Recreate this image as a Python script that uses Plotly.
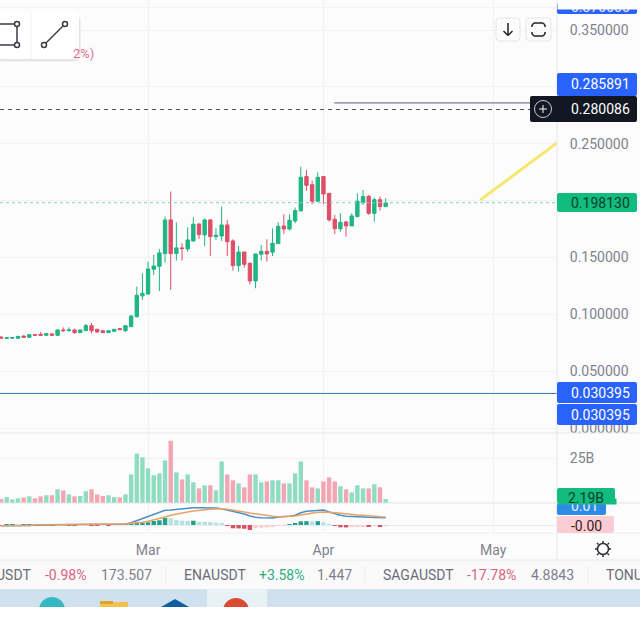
import pandas as pd
import plotly.graph_objects as go
from plotly.subplots import make_subplots

W = 640
H = 640

# daily candles
opens = [.0800, .0789, .0789, .0789, .0809, .0798, .0821, .0824, .0815, .0827, .0815, .0862, .0856, .0862, .0839, .0856, .0900, .0868,
         .0856, .0839, .0850, .0874, .0856, .0891, .0979, .1162, .1179, .1396, .1422, .1534, .1830, .1534, .1584, .1575, .1645, .1794,
         .1698, .1830, .1683, .1689, .1786, .1645, .1428, .1548, .1449, .1293, .1528, .1554, .1546, .1622, .1777, .1750, .1821, .1909,
         .2211, .2140, .1994, .2211, .2064, .1835, .1753, .1812, .1777, .1859, .1982, .2038, .1888, .2008, .1947]
highs = [.0806, .0800, .0800, .0809, .0812, .0824, .0827, .0844, .0833, .0833, .0868, .0885, .0885, .0874, .0865, .0915, .0924, .0871,
         .0859, .0859, .0871, .0877, .0906, .0991, .1244, .1361, .1463, .1522, .1575, .1859, .2079, .1809, .1625, .1765, .1853, .1800,
         .1844, .1836, .1756, .1947, .1830, .1660, .1601, .1548, .1455, .1531, .1610, .1660, .1756, .1809, .1879, .1879, .1938, .2298,
         .2269, .2175, .2249, .2211, .2064, .1874, .1888, .1821, .1888, .2064, .2093, .2049, .2026, .2035, .2020]
lows = [.0785, .0783, .0783, .0786, .0795, .0795, .0812, .0810, .0812, .0810, .0812, .0844, .0847, .0827, .0836, .0853, .0833, .0839,
        .0836, .0836, .0847, .0862, .0844, .0888, .0973, .1126, .1170, .1346, .1205, .1455, .1214, .1472, .1472, .1551, .1639, .1663,
        .1601, .1513, .1654, .1645, .1513, .1384, .1375, .1411, .1264, .1229, .1472, .1463, .1512, .1622, .1707, .1736, .1800, .1909,
        .2087, .1967, .1994, .1967, .1815, .1707, .1727, .1683, .1777, .1853, .1961, .1874, .1815, .1912, .1947]
closes = [.0789, .0795, .0795, .0806, .0798, .0821, .0815, .0815, .0830, .0815, .0862, .0856, .0862, .0839, .0862, .0900, .0856, .0844,
          .0839, .0856, .0868, .0865, .0900, .0985, .1167, .1185, .1399, .1425, .1540, .1830, .1534, .1584, .1578, .1654, .1792, .1701,
          .1830, .1683, .1695, .1786, .1639, .1428, .1548, .1440, .1293, .1531, .1554, .1531, .1625, .1774, .1750, .1827, .1912, .2205,
          .2134, .1994, .2205, .2058, .1830, .1753, .1809, .1777, .1865, .1994, .2035, .1888, .2008, .1947, .19813]

# volume, in billions
volumes = [2.2, 3.3, 2.0, 2.6, 3.1, 3.7, 2.6, 3.7, 4.3, 4.3, 7.6, 7.0, 4.8, 3.7, 3.9, 6.5, 7.6, 4.8, 3.9, 4.3, 3.3, 3.1, 4.8, 15.9, 27.4,
           25.4, 19.3, 15.4, 16.5, 23.7, 34.6, 17.0, 13.1, 15.9, 11.5, 8.1, 9.8, 9.8, 7.0, 23.1, 15.9, 12.6, 10.9, 8.7, 15.9, 15.9, 11.5,
           12.0, 12.6, 12.6, 10.9, 10.9, 16.5, 23.1, 12.6, 8.7, 8.1, 12.0, 14.3, 12.0, 9.3, 7.6, 5.9, 9.8, 8.1, 8.1, 10.4, 8.7, 2.19]

# MACD pane
macd_line = [-.0005, -.0005, -.0005, -.0005, -.0005, -.0005, .0, .0, .0, .0, .0002, .0002, .0002, .0002, .0002, .0002, .0007, .0007, .0007,
             .0007, .0007, .0007, .0007, .0016, .0030, .0049, .0063, .0077, .0091, .0103, .0105, .0110, .0114, .0119, .0121, .0121, .0121,
             .0121, .0119, .0114, .0105, .0096, .0086, .0077, .0063, .0054, .0051, .0049, .0049, .0056, .0058, .0061, .0068, .0086, .0096,
             .0100, .0105, .0105, .0091, .0077, .0068, .0061, .0061, .0058, .0056, .0054, .0054, .0054, .0051]
signal_line = [-.0005, -.0005, -.0005, -.0005, -.0005, -.0005, .0002, .0002, .0002, .0002, .0007, .0007, .0007, .0007, .0007, .0007, .0007,
               .0007, .0007, .0007, .0007, .0007, .0007, .0012, .0014, .0019, .0026, .0035, .0044, .0056, .0068, .0077, .0084, .0091, .0098,
               .0103, .0105, .0110, .0112, .0114, .0110, .0105, .0098, .0091, .0084, .0077, .0070, .0065, .0061, .0058, .0058, .0061, .0063,
               .0070, .0077, .0084, .0089, .0091, .0091, .0086, .0082, .0077, .0072, .0070, .0068, .0063, .0061, .0058, .0056]
macd_hist = [-.0001, .0001, .0001, -.0001, .0001, .0001, -.0001, .0001, .0002, -.0001, .0001, .0001, -.0001, -.0002, .0001, .0002, -.0001,
             -.0002, .0001, -.0001, .0001, .0001, .0005, .0007, .0012, .0016, .0019, .0028, .0033, .0049, .0047, .0035, .0030, .0029, .0030,
             .0023, .0022, .0021, .0016, .0012, -.0005, -.0023, -.0024, -.0026, -.0035, -.0023, -.0019, -.0017, -.0012, -.0007, -.0006,
             .0005, .0012, .0026, .0027, .0026, .0027, .0019, .0005, -.0007, -.0016, -.0017, -.0014, -.0013, -.0009, -.0010, -.0005, -.0009,
             -.0005]

dates = pd.date_range("2024-02-04", periods=len(closes), freq="D")

# price levels on the axis and the drawings on the chart
last_price = 0.198130
mark_price = 0.280086
alert_price = 0.285891
low_level = 0.030395
trend_dates = ["2024-04-28 17:00", "2024-05-12 07:00"]
trend_prices = [0.2005, 0.2507]

price_ticks = [0.0, 0.05, 0.10, 0.15, 0.20, 0.25, 0.30, 0.35, 0.37]
price_labels = ["0.000000", "0.050000", "0.100000", "0.150000", "", "0.250000", "", "0.350000", ""]
month_ticks = ["2024-03-01", "2024-04-01", "2024-05-01"]
month_labels = ["Mar", "Apr", "May"]

ticker_items = [("USDT", 33, "#6a6d78", "right"), ("-0.98%", 43, "#d9637f", "left"), ("173.507", 99, "#7d808a", "left"),
                ("ENAUSDT", 182, "#6a6d78", "left"), ("+3.58%", 257, "#2faa80", "left"), ("1.447", 315, "#7d808a", "left"),
                ("SAGAUSDT", 381, "#6a6d78", "left"), ("-17.78%", 465, "#d9637f", "left"), ("4.8843", 529, "#7d808a", "left"),
                ("TONU", 604, "#6a6d78", "left")]

GREEN = "#1fb584"
RED = "#dd4f68"
GRID = "#f1f2f5"
AXIS_TEXT = "#7f828c"
FONT = "Roboto"


def fx(x):
    return x / W


def fy(y):
    return 1 - y / H


def rect(x0, y0, x1, y1, fill, line=None, radius=0):
    # rectangle given in screen pixels
    d = dict(type="path", xref="paper", yref="paper", fillcolor=fill, layer="above",
             line=dict(width=1 if line else 0, color=line or fill))
    r = radius
    pts = (f"M{fx(x0 + r)},{fy(y0)} L{fx(x1 - r)},{fy(y0)} Q{fx(x1)},{fy(y0)} {fx(x1)},{fy(y0 + r)} "
           f"L{fx(x1)},{fy(y1 - r)} Q{fx(x1)},{fy(y1)} {fx(x1 - r)},{fy(y1)} L{fx(x0 + r)},{fy(y1)} "
           f"Q{fx(x0)},{fy(y1)} {fx(x0)},{fy(y1 - r)} L{fx(x0)},{fy(y0 + r)} Q{fx(x0)},{fy(y0)} {fx(x0 + r)},{fy(y0)} Z")
    d["path"] = pts
    return d


def seg(x0, y0, x1, y1, color, width=1.5):
    return dict(type="line", xref="paper", yref="paper", x0=fx(x0), y0=fy(y0), x1=fx(x1), y1=fy(y1),
                line=dict(color=color, width=width), layer="above")


def dot(cx, cy, r, fill, line, width=1.5):
    return dict(type="circle", xref="paper", yref="paper", x0=fx(cx - r), y0=fy(cy - r), x1=fx(cx + r), y1=fy(cy + r),
                fillcolor=fill, line=dict(color=line, width=width), layer="above")


def label(text, x, y, color, size=14, anchor="left", **kw):
    return dict(text=text, xref="paper", yref="paper", x=fx(x), y=fy(y), xanchor=anchor, yanchor="middle", showarrow=False,
                font=dict(family=FONT, size=size, color=color), **kw)


fig = make_subplots(rows=3, cols=1, shared_xaxes=True, vertical_spacing=0)

fig.add_trace(go.Candlestick(x=dates, open=opens, high=highs, low=lows, close=closes,
                             increasing=dict(line=dict(color=GREEN, width=1), fillcolor=GREEN),
                             decreasing=dict(line=dict(color=RED, width=1), fillcolor=RED)), row=1, col=1)
fig.add_trace(go.Scatter(x=trend_dates, y=trend_prices, mode="lines", line=dict(color="#f6e76e", width=3)), row=1, col=1)

vol_colors = ["#8fdcc0" if c >= o else "#f2a6b3" for o, c in zip(opens, closes)]
fig.add_trace(go.Bar(x=dates, y=volumes, marker=dict(color=vol_colors, line=dict(width=0))), row=2, col=1)

hist_colors = []
for i, v in enumerate(macd_hist):
    prev = macd_hist[i - 1] if i else 0
    if v >= 0:
        hist_colors.append("#22a08c" if v >= prev else "#b2e3dc")
    else:
        hist_colors.append("#d9505f" if v <= prev else "#f9cdd2")
fig.add_trace(go.Bar(x=dates, y=macd_hist, marker=dict(color=hist_colors, line=dict(width=0))), row=3, col=1)
fig.add_trace(go.Scatter(x=dates, y=macd_line, mode="lines", line=dict(color="#4a90c8", width=1.5)), row=3, col=1)
fig.add_trace(go.Scatter(x=dates, y=signal_line, mode="lines", line=dict(color="#e8a266", width=1.5)), row=3, col=1)

x_range = ["2024-02-03 19:40", "2024-05-12 07:00"]
for row in (1, 2, 3):
    fig.update_xaxes(row=row, col=1, range=x_range, tickvals=month_ticks, ticktext=month_labels, showgrid=True, gridcolor=GRID,
                     gridwidth=1, zeroline=False, showline=False, rangeslider_visible=False,
                     domain=[0, fx(557)], showticklabels=row == 3, ticks="outside" if row == 3 else "", ticklen=4,
                     tickcolor="rgba(0,0,0,0)", tickfont=dict(family=FONT, size=14, color=AXIS_TEXT))

fig.update_yaxes(row=1, col=1, side="right", range=[-0.0044, 0.3764], domain=[fy(433), fy(0)], tickvals=price_ticks, ticktext=price_labels,
                 gridcolor=GRID, zeroline=False, showline=False, ticks="outside", ticklen=9, tickcolor="rgba(0,0,0,0)",
                 tickfont=dict(family=FONT, size=14, color=AXIS_TEXT))
fig.update_yaxes(row=2, col=1, side="right", range=[0, 38.9], domain=[fy(503), fy(433)], tickvals=[0, 25], ticktext=["", "25B"],
                 gridcolor=GRID, zeroline=False, showline=False, ticks="outside", ticklen=9, tickcolor="rgba(0,0,0,0)",
                 tickfont=dict(family=FONT, size=14, color=AXIS_TEXT))
fig.update_yaxes(row=3, col=1, side="right", range=[-0.0056, 0.0154], domain=[fy(533), fy(503)], tickvals=[0], ticktext=[""],
                 gridcolor="#e8eaef", zeroline=False, showline=False, showticklabels=False)

# price lines across the chart
shapes = [
    dict(type="line", xref="x", yref="y", x0="2024-04-02 22:00", x1=x_range[1], y0=alert_price, y1=alert_price,
         line=dict(color="#5a5f6e", width=1)),
    dict(type="line", xref="paper", yref="y", x0=0, x1=fx(530), y0=mark_price, y1=mark_price,
         line=dict(color="#50535e", width=1, dash="4px,4px")),
    dict(type="line", xref="paper", yref="y", x0=0, x1=fx(557), y0=last_price, y1=last_price,
         line=dict(color="#7fd0ba", width=1, dash="dot")),
    dict(type="line", xref="paper", yref="y", x0=0, x1=fx(557), y0=low_level, y1=low_level,
         line=dict(color="#2b7bb0", width=1)),
]

# pane borders
shapes += [seg(557, 0, 557, 560, "#e4e6eb", 1), seg(0, 433, 640, 433, "#e4e6eb", 1), seg(0, 503, 640, 503, "#e0e3e8", 1),
           seg(0, 533, 640, 533, "#eceef1", 1)]

# ticker strip and the task bar under it
shapes += [rect(0, 560, 640, 589, "#fafafa"), seg(0, 560, 640, 560, "#e4e6eb", 1),
           seg(166, 567, 166, 583, "#eceef1", 1), seg(365, 567, 365, 583, "#eceef1", 1), seg(588, 567, 588, 583, "#eceef1", 1),
           rect(0, 589, 640, 607, "#cfe1ed"), rect(207, 589, 267, 607, "#e7f1f6"),
           dot(52, 610, 13, "#35b8c4", "#35b8c4", 0), rect(100, 602, 128, 607, "#f2c24d"), rect(100, 601, 113, 604, "#dca52c"),
           dict(type="path", xref="paper", yref="paper", layer="above", fillcolor="#0f5f9e", line=dict(width=0),
                path=f"M{fx(161)},{fy(607)} L{fx(175)},{fy(599)} L{fx(189)},{fy(607)} Z"),
           dot(236, 611, 13, "#dd4a32", "#dd4a32", 0),
           rect(0, 607, 640, 640, "#ffffff")]

# axis tags
shapes += [rect(557, 3, 637, 14, "#2962ff", radius=2), rect(557, 73, 637, 96, "#2962ff", radius=2),
           rect(530, 96, 637, 122, "#131722", radius=2), dot(543, 109, 8.5, "rgba(0,0,0,0)", "#c9cbd1", 1),
           seg(539, 109, 547, 109, "#ffffff", 1), seg(543, 105, 543, 113, "#ffffff", 1),
           rect(557, 193, 637, 212, "#12bb7e", radius=2), rect(557, 382, 637, 403, "#2962ff", radius=2),
           rect(557, 404, 637, 425, "#2962ff", radius=2), rect(557, 516, 614, 533, "#fbcdd3", radius=2),
           rect(557, 488, 615, 503, "#12bb7e", radius=2), rect(557, 503.5, 606, 515, "#2f8ae6", radius=2)]

# buttons over the chart
shapes += [rect(496, 18, 520, 41, "#fcfcfd", "#e3e5e9", 4), rect(526, 18, 551, 41, "#fcfcfd", "#e3e5e9", 4),
           seg(508, 23, 508, 35, "#1d2028", 1.5), seg(503.5, 31, 508, 35.5, "#1d2028", 1.5), seg(512.5, 31, 508, 35.5, "#1d2028", 1.5),
           seg(534, 23, 543, 23, "#1d2028", 1.5), seg(534, 36, 543, 36, "#1d2028", 1.5),
           seg(532, 25, 532, 27, "#1d2028", 1.5), seg(545, 25, 545, 27, "#1d2028", 1.5),
           seg(532, 32, 532, 34, "#1d2028", 1.5), seg(545, 32, 545, 34, "#1d2028", 1.5),
           seg(534, 23, 532, 25, "#1d2028", 1.5), seg(543, 23, 545, 25, "#1d2028", 1.5),
           seg(534, 36, 532, 34, "#1d2028", 1.5), seg(543, 36, 545, 34, "#1d2028", 1.5)]

# drawing toolbar, top left
shapes += [rect(-6, 15, 81, 62, "rgba(60,60,80,0.05)", radius=8), rect(-6, 14, 80, 61, "rgba(60,60,80,0.07)", radius=8),
           rect(-6, 12, 79, 59, "#ffffff", radius=6), seg(31, 12, 31, 59, "#f2f2f4", 1),
           seg(0, 24, 17, 24, "#3a3d46", 1.5), seg(0, 45, 17, 45, "#3a3d46", 1.5), seg(17, 24, 17, 45, "#3a3d46", 1.5),
           dot(17, 24, 2.5, "#ffffff", "#3a3d46"), dot(17, 45, 2.5, "#ffffff", "#3a3d46"),
           seg(44, 45, 65, 24, "#3a3d46", 1.5), dot(44, 45, 2.5, "#ffffff", "#3a3d46"), dot(65, 24, 2.5, "#ffffff", "#3a3d46")]

# theme button, bottom right
shapes += [dot(603, 549, 5.5, "#ffffff", "#2a2d35", 1.5)]
for x0, y0, x1, y1 in [(603, 541, 603, 543), (603, 555, 603, 557), (595, 549, 597, 549), (609, 549, 611, 549),
                       (597, 543, 598.5, 544.5), (607.5, 553.5, 609, 555), (597, 555, 598.5, 553.5), (607.5, 544.5, 609, 543)]:
    shapes.append(seg(x0, y0, x1, y1, "#2a2d35", 1.5))

annotations = [
    label("2%)", 96, 54, "#e0708a", size=13, anchor="right"),
    # top tag is cut by the edge of the window, the white box hides the top of its text
    label("0.370000", 600, 7, "#e6ecff", anchor="center"),
    label(" ", 557, 4.5, "#ffffff", anchor="left", bgcolor="#fcfcfd", width=83, height=9, borderpad=0),
    label(f"{alert_price:.6f}", 600, 84, "#ffffff", anchor="center"),
    label(f"{mark_price:.6f}", 600, 109, "#ffffff", anchor="center"),
    label(f"{last_price:.6f}", 600, 203, "#0c3f2d", anchor="center"),
    label(f"{low_level:.6f}", 600, 393, "#ffffff", anchor="center"),
    label(f"{low_level:.6f}", 600, 415, "#ffffff", anchor="center"),
    # 0.01 sits under the volume tag
    label("0.01", 584, 506, "#e8f1ff", anchor="center"),
    label(" ", 557, 501, "#ffffff", anchor="left", bgcolor="#12bb7e", width=58, height=5, borderpad=0),
    label("2.19B", 586, 498, "#0c3f2d", anchor="center"),
    label("-0.00", 586, 526, "#3a1a20", anchor="center"),
]
for text, x, color, anchor in ticker_items:
    annotations.append(label(text, x, 575, color, anchor=anchor))

fig.update_layout(width=W, height=H, margin=dict(l=0, r=0, t=0, b=0, autoexpand=False), paper_bgcolor="#fcfcfd", plot_bgcolor="#fcfcfd",
                  showlegend=False, bargap=0.22, boxgap=0.15, shapes=shapes, annotations=annotations,
                  font=dict(family=FONT))

page_fix = ("document.documentElement.style.overflow='hidden';document.documentElement.style.height='640px';"
            "document.body.style.margin='0';document.body.style.height='640px';document.body.style.overflow='hidden';")
fig.write_html("out.html", post_script=page_fix, config=dict(displayModeBar=False))
